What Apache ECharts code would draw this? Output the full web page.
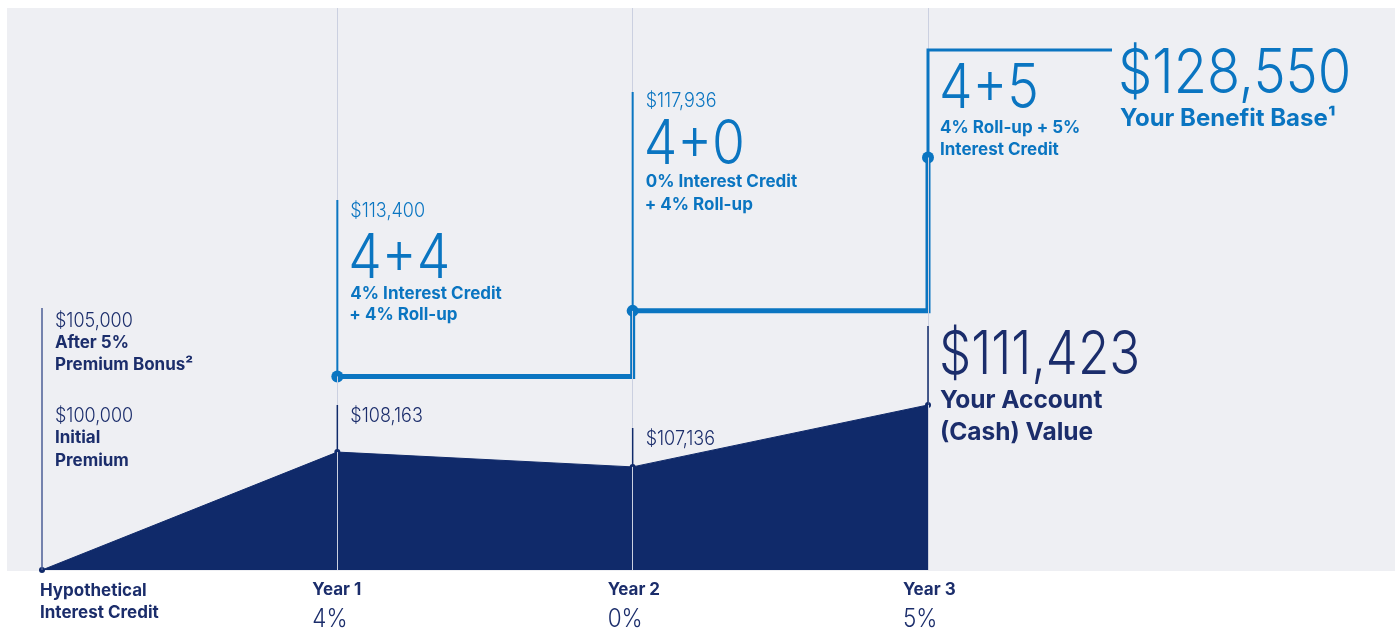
<!DOCTYPE html>
<html><head><meta charset="utf-8">
<script src="https://cdn.jsdelivr.net/npm/echarts@6/dist/echarts.min.js"></script>
<style>html,body{margin:0;padding:0;background:#fff}#c{width:1395px;height:631px}</style>
</head><body><div id="c"></div>
<script>
// ---- data ----
const years = [0, 1, 2, 3];
const yearLabels = ['Hypothetical', 'Year 1', 'Year 2', 'Year 3'];
const yearSubLabels = ['Interest Credit', '4%', '0%', '5%'];
const accountValue = [100000, 108163, 107136, 111423];
const benefitYears = [1, 2, 3];
const benefitBase = [113400, 117936, 128550];
const initialPremium = 100000;
const bonusPremium = 105000;
const formulas = ['4+4', '4+0', '4+5'];
const formulaNotes = [
  ['4% Interest Credit', '+ 4% Roll-up'],
  ['0% Interest Credit', '+ 4% Roll-up'],
  ['4% Roll-up + 5%', 'Interest Credit']
];

// ---- styles ----
const NAVY = '#102a6a', TNAVY = '#1b2d6b', BLUE = '#0a75c1', PANEL = '#eeeff3', GRIDC = '#cbd0e0';
const FONT = 'Inter, "Noto Sans", sans-serif';
const money = v => '$' + v.toLocaleString('en-US');

const chart = echarts.init(document.getElementById('c'), null, {renderer: 'canvas'});
chart.setOption({
  animation: false,
  backgroundColor: '#ffffff',
  grid: [
    {left: 42, right: 1395 - 928, top: 8, bottom: 61, containLabel: false},
    {left: 7, right: 0, top: 8, bottom: 60, show: true, backgroundColor: PANEL, borderWidth: 0, z: 0}
  ],
  xAxis: [
    {type: 'value', gridIndex: 0, min: 0, max: 3, interval: 1, show: false},
    {type: 'value', gridIndex: 1, show: false}
  ],
  yAxis: [
    {type: 'value', gridIndex: 0, min: 100000, max: 138900, show: false},
    {type: 'value', gridIndex: 1, show: false}
  ],
  series: [
    {
      type: 'line', xAxisIndex: 0, yAxisIndex: 0, data: [], z: 1, silent: true,
      markLine: {
        silent: true, symbol: 'none', label: {show: false},
        lineStyle: {color: GRIDC, width: 1, type: 'solid'},
        data: years.slice(1).map(y => ({xAxis: y}))
      }
    },
    {
      type: 'line', xAxisIndex: 0, yAxisIndex: 0, z: 3,
      data: years.map((y, i) => [y, accountValue[i]]),
      symbol: 'circle', symbolSize: 6, showSymbol: true,
      itemStyle: {color: NAVY},
      lineStyle: {color: NAVY, width: 1},
      areaStyle: {color: NAVY, opacity: 1, origin: 'start'}
    },
    {
      type: 'line', xAxisIndex: 0, yAxisIndex: 0, z: 4, step: 'end',
      data: benefitYears.map((y, i) => [y, benefitBase[i]]),
      symbol: 'circle', symbolSize: 12, showSymbol: true,
      itemStyle: {color: BLUE},
      lineStyle: {color: BLUE, width: 5, join: 'miter'}
    }
  ]
});

const P = (x, y) => chart.convertToPixel({gridIndex: 0}, [x, y]);
const g = [];
function line(x1, y1, x2, y2, color, w) {
  g.push({type: 'line', z: 10, shape: {x1, y1, x2, y2}, style: {stroke: color, lineWidth: w}});
}
function text(t, x, y, size, weight, color, sx) {
  g.push({type: 'text', z: 10, x, y, scaleX: sx || 1, style: {
    text: t, fill: color, font: weight + ' ' + size + 'px ' + FONT,
    verticalAlign: 'middle', align: 'left'
  }});
}
const SMALL = 0.9, BIG = 0.86;

// Year 0 annotations
const p0 = P(years[0], initialPremium);
line(p0[0], p0[1], p0[0], 308, '#4b5e96', 1.5);
text(money(bonusPremium), p0[0] + 13, 321, 20, 300, TNAVY, SMALL);
text('After 5%', p0[0] + 13, 343, 17, 700, TNAVY);
text('Premium Bonus²', p0[0] + 13, 365, 17, 700, TNAVY);
text(money(initialPremium), p0[0] + 13, 416, 20, 300, TNAVY, SMALL);
text('Initial', p0[0] + 13, 438, 17, 700, TNAVY);
text('Premium', p0[0] + 13, 461, 17, 700, TNAVY);

// Account value labels
const accTops = [null, 405, 428, 326];
for (let i = 1; i < years.length; i++) {
  const p = P(years[i], accountValue[i]);
  line(p[0], p[1], p[0], accTops[i], NAVY, 1.5);
  if (i < years.length - 1) text(money(accountValue[i]), p[0] + 13, accTops[i] + 11, 20, 300, TNAVY, SMALL);
}
const pa3 = P(years[3], accountValue[3]);
text(money(accountValue[3]), pa3[0] + 11, 356, 60, 300, TNAVY, 0.85);
text('Your Account', pa3[0] + 12, 401, 24.5, 700, TNAVY);
text('(Cash) Value', pa3[0] + 12, 433, 24.5, 700, TNAVY);

// Benefit base annotations
const bTops = [200, 92];
const bLayout = [
  {amt: 211, big: 259, n1: 294, n2: 315},
  {amt: 101, big: 145, n1: 182, n2: 205}
];
for (let i = 0; i < 2; i++) {
  const p = P(benefitYears[i], benefitBase[i]);
  line(p[0], p[1], p[0], bTops[i], BLUE, 2);
  const L = bLayout[i];
  text(money(benefitBase[i]), p[0] + 13, L.amt, 20, 300, BLUE, SMALL);
  text(formulas[i], p[0] + 11, L.big, 62, 300, BLUE, BIG);
  text(formulaNotes[i][0], p[0] + 13, L.n1, 17, 700, BLUE);
  text(formulaNotes[i][1], p[0] + 12, L.n2, 17, 700, BLUE);
}
const pb3 = P(benefitYears[2], benefitBase[2]);
g.push({type: 'polyline', z: 9, shape: {points: [[pb3[0], pb3[1]], [pb3[0], 50], [1112, 50]]},
  style: {stroke: BLUE, lineWidth: 3, fill: null, lineJoin: 'miter'}});
text(formulas[2], pb3[0] + 11, 89, 62, 300, BLUE, BIG);
text(formulaNotes[2][0], pb3[0] + 12, 128, 17, 700, BLUE);
text(formulaNotes[2][1], pb3[0] + 12, 150, 17, 700, BLUE);
text(money(benefitBase[2]), 1118, 74, 62, 300, BLUE, 0.875);
text('Your Benefit Base¹', 1120, 119, 24, 700, BLUE);

// Bottom axis labels
for (let i = 0; i < years.length; i++) {
  const x = P(years[i], initialPremium)[0];
  if (i === 0) {
    text(yearLabels[i], x - 2, 591, 17, 700, TNAVY);
    text(yearSubLabels[i], x - 2, 613, 17, 700, TNAVY);
  } else {
    text(yearLabels[i], x - 25, 590, 17, 700, TNAVY);
    text(yearSubLabels[i], x - 25, 619, 25, 300, TNAVY, SMALL);
  }
}

chart.setOption({graphic: {elements: g}});
</script></body></html>
